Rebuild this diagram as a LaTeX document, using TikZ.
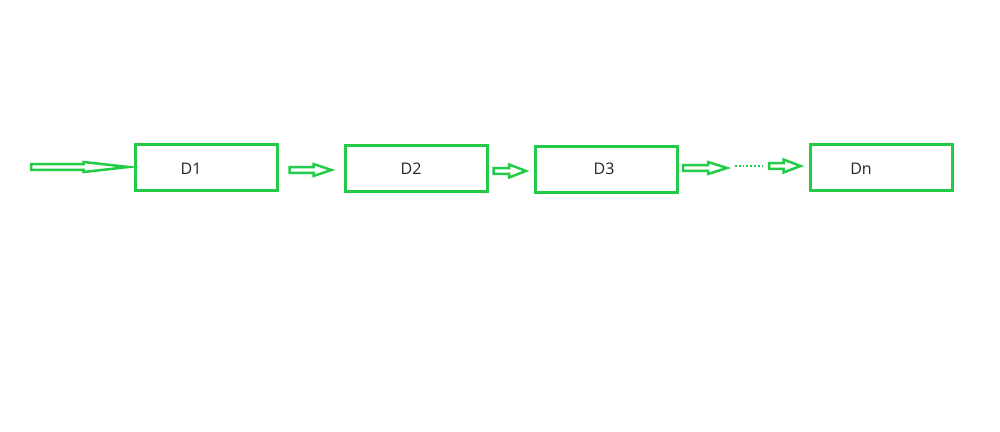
\documentclass[tikz,border=0pt]{standalone}
\usepackage{fontspec}
\setmainfont{Open Sans}
\usetikzlibrary{calc}
\definecolor{grn}{RGB}{34,204,72}
\tikzset{
  box/.style={draw=grn, line width=3pt, minimum width=142pt, minimum height=46pt, inner sep=0pt},
  lbl/.style={font=\fontsize{16}{19}\selectfont, text=black!85, inner sep=0pt},
  arr/.style={draw=grn, line width=2.5pt, line join=miter, fill=white},
  dots/.style={draw=grn, line width=1.8pt, dotted}
}
\newcommand\harrow[5]{%
  \path[arr] let \p1=(#1), \p2=(#2) in
    (\x1,\y1+#4) -- (\x2-#3,\y1+#4) -- (\x2-#3,\y1+#5) -- (\x2,\y1)
    -- (\x2-#3,\y1-#5) -- (\x2-#3,\y1-#4) -- (\x1,\y1-#4) -- cycle;}
\begin{document}
\begin{tikzpicture}[x=1pt,y=-1pt]
\useasboundingbox[fill=white] (0,0) rectangle (1000,431);
\node[box] (d1) at (206,167) {};
\node[box] (d2) at (416,168) {};
\node[box] (d3) at (606.5,169) {};
\node[box] (dn) at (881,167) {};
\node[lbl] (t1) at (191,169) {D1};
\node[lbl] (t2) at (411,169) {D2};
\node[lbl] (t3) at (604,169) {D3};
\node[lbl] (tn) at (861,169) {Dn};
\coordinate (in) at (31,167);
\coordinate (e1) at ($(d1.west)+(-5,0)$);
\coordinate (s2) at ($(d1.east)+(11,3)$);
\coordinate (e2) at ($(d2.west)+(-12,2)$);
\coordinate (s3) at ($(d2.east)+(5,3)$);
\coordinate (e3) at ($(d3.west)+(-8,2)$);
\coordinate (s4) at ($(d3.east)+(4,-1)$);
\coordinate (e4) at (727,168);
\coordinate (dotA) at (735,166);
\coordinate (dotB) at (763,166);
\coordinate (s5) at (769,166);
\coordinate (e5) at ($(dn.west)+(-8,-1)$);
\harrow{in}{e1}{45pt}{2.8pt}{5pt}
\harrow{s2}{e2}{18pt}{2.8pt}{6pt}
\harrow{s3}{e3}{17pt}{2.8pt}{6.5pt}
\harrow{s4}{e4}{19pt}{2.8pt}{6pt}
\draw[dots] (dotA) -- (dotB);
\harrow{s5}{e5}{17pt}{2.8pt}{6.5pt}
\end{tikzpicture}
\end{document}
